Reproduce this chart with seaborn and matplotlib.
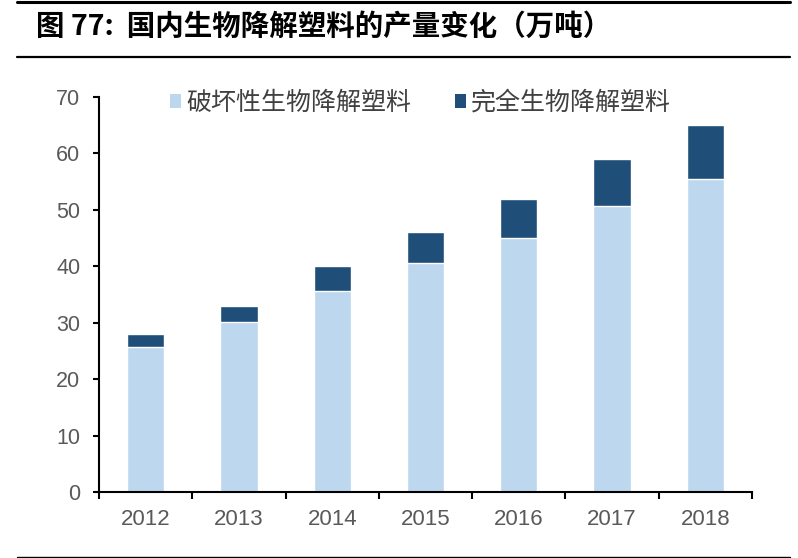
import pandas as pd
import matplotlib.pyplot as plt
import seaborn as sns
from matplotlib.patches import Patch
from matplotlib.lines import Line2D

# -----------------------------------
# DATA
# -----------------------------------
years = ['2012', '2013', '2014', '2015', '2016', '2017', '2018']
partial = [25.7, 30.1, 35.7, 40.5, 45.1, 50.7, 55.4]
full = [2.3, 2.9, 4.3, 5.5, 6.9, 8.3, 9.6]
labels = ['破坏性生物降解塑料', '完全生物降解塑料']
title = '图 77:  国内生物降解塑料的产量变化（万吨）'

light_color = '#BDD7EE'
dark_color = '#1F4E79'
tick_color = '#595959'

df = pd.DataFrame({
    'year': years,
    'partial': partial,
    'full': full
})
df['total'] = df['partial'] + df['full']

# -----------------------------------
# STYLE
# -----------------------------------
sns.set_style('white')
plt.rcParams['font.family'] = ['Liberation Sans', 'Noto Sans CJK SC', 'DejaVu Sans']

fig = plt.figure(figsize=(7.98, 5.58), dpi=100)
ax = fig.add_axes([99 / 798, 1 - 492 / 558, 653 / 798, 395 / 558])

# -----------------------------------
# STACKED BARS
# -----------------------------------
sns.barplot(
    data=df,
    x='year',
    y='total',
    color=dark_color,
    saturation=1,
    width=0.4,
    ax=ax
)

sns.barplot(
    data=df,
    x='year',
    y='partial',
    color=light_color,
    saturation=1,
    width=0.4,
    ax=ax
)

# -----------------------------------
# AXES
# -----------------------------------
ax.set_xlim(-0.5, 6.5)
ax.set_ylim(0, 70)
ax.set_yticks(range(0, 71, 10))
ax.set_xlabel('')
ax.set_ylabel('')

for side in ['top', 'right']:
    ax.spines[side].set_visible(False)
for side in ['left', 'bottom']:
    ax.spines[side].set_color('black')
    ax.spines[side].set_linewidth(1.5)

ax.tick_params(axis='y', direction='out', length=4.5, width=1.5,
               color='black', labelsize=15.5, labelcolor=tick_color, pad=9,
               left=True)
ax.tick_params(axis='x', which='major', length=0, labelsize=16,
               labelcolor=tick_color, pad=12)
ax.set_xticks([i - 0.5 for i in range(8)], minor=True)
ax.tick_params(axis='x', which='minor', direction='out', length=5,
               width=1.5, color='black', bottom=True)

# -----------------------------------
# LEGEND
# -----------------------------------
handles = [
    Patch(facecolor=light_color, edgecolor='none'),
    Patch(facecolor=dark_color, edgecolor='none')
]
leg = fig.legend(
    handles,
    labels,
    loc='center left',
    bbox_to_anchor=(160 / 798, 1 - 103 / 558),
    ncol=2,
    frameon=False,
    handlelength=0.45,
    handleheight=0.45,
    handletextpad=0.2,
    columnspacing=1.75,
    borderaxespad=0,
    prop={'family': 'Noto Sans CJK SC', 'size': 18}
)
for text in leg.get_texts():
    text.set_color('#404040')

# -----------------------------------
# TITLE AND RULES
# -----------------------------------
fig.text(36 / 798, 1 - 27 / 558, title, ha='left', va='center',
         fontsize=20.5, fontweight='bold', family='Noto Sans CJK SC',
         color='black')

fig.add_artist(Line2D([17 / 798, 790 / 798], [1 - 1.5 / 558, 1 - 1.5 / 558],
                      color='black', linewidth=2.2))
fig.add_artist(Line2D([17 / 798, 790 / 798], [1 - 57 / 558, 1 - 57 / 558],
                      color='black', linewidth=1.6))
fig.add_artist(Line2D([17 / 798, 790 / 798], [1 - 556.5 / 558, 1 - 556.5 / 558],
                      color='black', linewidth=1.0))

# SAVE IMAGE
plt.savefig('out.png', dpi=100)
